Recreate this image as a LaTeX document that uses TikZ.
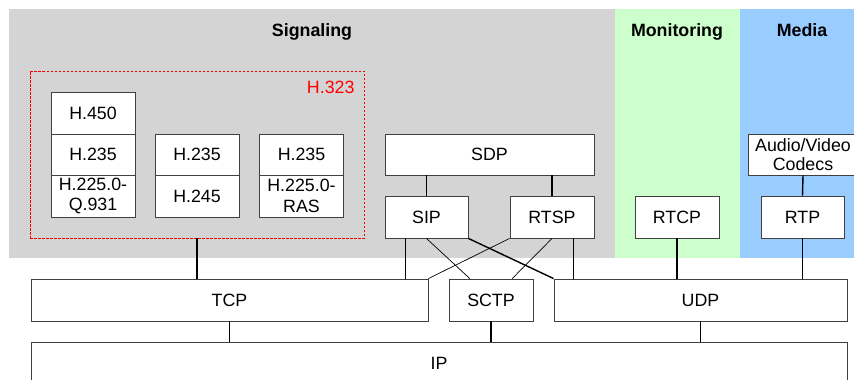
\documentclass[tikz,border=0pt]{standalone}
\usepackage{fontspec}
\setmainfont{Liberation Sans}
\usetikzlibrary{calc}
\definecolor{bggray}{HTML}{D4D4D4}
\definecolor{bggreen}{HTML}{CCFFCC}
\definecolor{bgblue}{HTML}{99CCFF}
\definecolor{bordergray}{HTML}{404040}
\begin{document}
\begin{tikzpicture}[x=1pt,y=-1pt,
  every node/.style={font=\fontsize{17.8}{20.5}\selectfont},
  box/.style={draw=bordergray, fill=white, line width=0.9pt, inner sep=0pt, align=center},
  title/.style={font=\fontsize{17.8}{20.5}\selectfont\bfseries, anchor=base},
  thick line/.style={line width=1.4pt, black},
  thin line/.style={line width=0.7pt, black}]
\useasboundingbox (0,0) rectangle (854,380);
\clip (0,0) rectangle (854,380);
% backgrounds
\fill[bggray] (9,9) rectangle (615,258);
\fill[bggreen] (615,9) rectangle (740,258);
\fill[bgblue] (740,9) rectangle (860,258);
\node[title] (tsig) at (312,36) {Signaling};
\node[title] (tmon) at (677,36) {Monitoring};
\node[title] (tmed) at (802,36) {Media};
% H.323 group
\node[draw=red, dash pattern=on 2.5pt off 1.5pt, line width=0.8pt, minimum width=334pt, minimum height=167pt, inner sep=0pt] (h323) at (197,154.5) {};
\node[text=red, anchor=east] (h323lbl) at (358,87) {H.323};
\node[box, minimum width=84pt, minimum height=42pt] (h450) at (93,113) {H.450};
\node[box, minimum width=84pt, minimum height=41pt] (h235a) at (93,154.5) {H.235};
\node[box, minimum width=84pt, minimum height=42pt] (q931) at (93,196) {H.225.0-\\Q.931};
\node[box, minimum width=84pt, minimum height=41pt] (h235b) at (197,154.5) {H.235};
\node[box, minimum width=84pt, minimum height=42pt] (h245) at (197,196) {H.245};
\node[box, minimum width=84pt, minimum height=41pt] (h235c) at (301.5,154.5) {H.235};
\node[box, minimum width=84pt, minimum height=42pt] (ras) at (301.5,196) {H.225.0-\\RAS};
% SDP / SIP / RTSP
\node[box, minimum width=209pt, minimum height=41pt] (sdp) at (489.5,154.5) {SDP};
\node[box, minimum width=83pt, minimum height=42pt] (sip) at (426.5,217) {SIP};
\node[box, minimum width=84pt, minimum height=42pt] (rtsp) at (552,217) {RTSP};
\node[box, minimum width=84pt, minimum height=42pt] (rtcp) at (677,217) {RTCP};
\node[box, minimum width=110pt, minimum height=41pt, font=\fontsize{17.8}{19.5}\selectfont] (codecs) at (803,154.5) {Audio/Video\\Codecs};
\node[box, minimum width=83pt, minimum height=42pt] (rtp) at (802.5,217) {RTP};
% transport
\node[box, minimum width=397pt, minimum height=42pt] (tcp) at (229.5,300) {TCP};
\node[box, minimum width=84pt, minimum height=42pt] (sctp) at (491,300) {SCTP};
\node[box, minimum width=293pt, minimum height=42pt] (udp) at (700.5,300) {UDP};
\node[box, minimum width=816pt, minimum height=42pt] (ip) at (439,363) {IP};
% connectors
\draw[thick line] (sdp.south -| sip) -- (sip.north);
\draw[thick line] (sdp.south -| rtsp) -- (rtsp.north);
\draw[thick line] (codecs.south) -- (rtp.north);
\draw[thick line] (h323.south) -- (h323.south |- tcp.north);
\coordinate (sipq) at ($(sip.south west)!0.25!(sip.south east)$);
\draw[thin line] (sipq) -- (sipq |- tcp.north);
\draw[thin line] (sip.south) -- ($(sctp.north west)!0.25!(sctp.north east)$);
\draw[thick line] (sip.south east) -- (udp.north west);
\draw[thin line] (rtsp.south west) -- (tcp.north east);
\draw[thin line] (rtsp.south) -- ($(sctp.north west)!0.75!(sctp.north east)$);
\coordinate (rtspq) at ($(rtsp.south west)!0.75!(rtsp.south east)$);
\draw[thick line] (rtspq) -- (rtspq |- udp.north);
\draw[thick line] (rtcp.south) -- (rtcp.south |- udp.north);
\draw[thick line] (rtp.south) -- (rtp.south |- udp.north);
\draw[thick line] (tcp.south) -- (tcp.south |- ip.north);
\draw[thick line] (sctp.south) -- (sctp.south |- ip.north);
\draw[thick line] (udp.south) -- (udp.south |- ip.north);
\end{tikzpicture}
\end{document}
